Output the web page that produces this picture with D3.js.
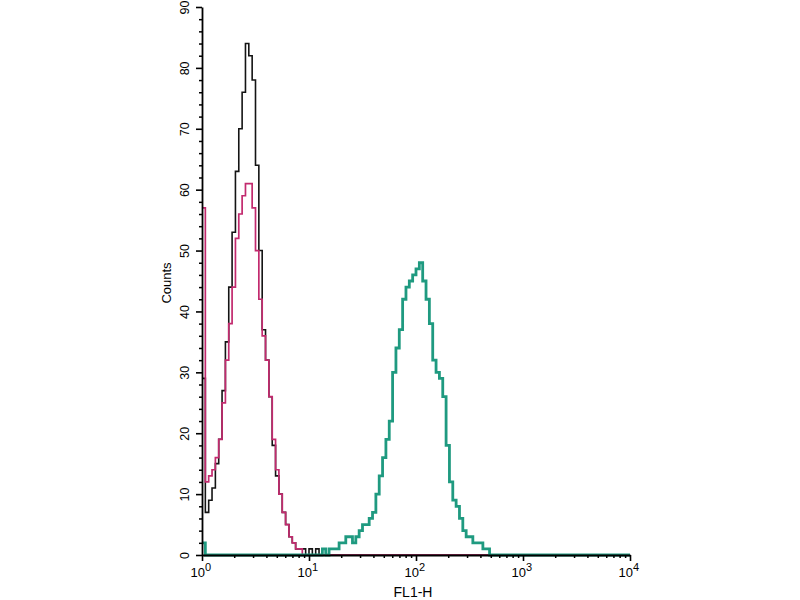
<!DOCTYPE html>
<html>
<head>
<meta charset="utf-8">
<script src="https://cdn.jsdelivr.net/npm/d3@7"></script>
<style>
  html, body { margin: 0; padding: 0; background: #fff; }
  svg { display: block; font-family: "Liberation Sans", Arial, sans-serif; }
</style>
</head>
<body>
<div id="chart"></div>
<script>
// #region Data (counts per 1/32-decade bin on FL1-H log axis)
const binsPerDecade = 32;
const totalBins = 128;

// black histogram, starts at bin 0
const blackCounts = [29, 7, 9, 11, 15, 19, 27, 35, 44, 53, 63, 70, 76, 84, 82, 78,
  64, 50, 37, 32, 26, 18, 13, 10, 7, 5, 3, 2, 1, 1, 1, 0, 1, 0, 1, 0];

// magenta histogram, starts at bin 0
const magentaCounts = [57, 12, 13, 14, 16, 19, 25, 32, 38, 44, 52, 56, 59, 61, 61, 57,
  50, 42, 36, 32, 26, 19, 14, 10, 7, 5, 3, 2, 1, 1, 0];

// teal histogram: a small bump at the first bin, then the stained peak from bin 36
const tealLowCounts = [2];
const tealPeakStart = 36;
const tealPeakCounts = [1, 0, 1, 1, 1, 2, 2, 3, 3, 2, 3, 4, 5, 5, 6, 7,
  10, 13, 16, 19, 22, 30, 34, 37, 42, 44, 45, 46, 47, 48, 45, 42,
  38, 32, 30, 29, 26, 18, 12, 9, 8, 6, 4, 3, 3, 2, 2, 2, 1, 1, 0];

const yTicks = [0, 10, 20, 30, 40, 50, 60, 70, 80, 90];
const xDecades = [1, 10, 100, 1000, 10000];
const xExponents = ['0', '1', '2', '3', '4'];
// #endregion

// #region SVG setup
const width = 800;
const height = 600;
const svg = d3.select('#chart').append('svg')
  .attr('width', width)
  .attr('height', height);

const x = d3.scaleLog().domain([1, 10000]).range([202, 630]);
const y = d3.scaleLinear().domain([0, 90]).range([555, 7]);
// #endregion

// #region Build step series
function toBins(parts) {
  const counts = new Array(totalBins).fill(0);
  parts.forEach(p => p.counts.forEach((c, i) => { counts[p.start + i] = c; }));
  const pts = counts.map((c, i) => [Math.pow(10, i / binsPerDecade), c]);
  pts.push([Math.pow(10, totalBins / binsPerDecade), 0]);
  return pts;
}

const stepLine = d3.line()
  .x(d => x(d[0]))
  .y(d => y(d[1]))
  .curve(d3.curveStepAfter);

const series = [
  { pts: toBins([{ start: 0, counts: blackCounts }]), color: '#141414', w: 1.6 },
  { pts: toBins([{ start: 0, counts: magentaCounts }]), color: '#c22a6e', w: 1.7 },
  { pts: toBins([{ start: 0, counts: tealLowCounts }, { start: tealPeakStart, counts: tealPeakCounts }]), color: '#1f9a80', w: 2.8 },
];

const plot = svg.append('g');
series.forEach(s => {
  plot.append('path')
    .attr('d', stepLine(s.pts))
    .attr('fill', 'none')
    .attr('stroke', s.color)
    .attr('stroke-width', s.w)
    .attr('stroke-linejoin', 'miter');
});
// #endregion

// #region Axes
const yMinor = d3.range(0, 91, 2).filter(v => v % 10 !== 0);
svg.append('g')
  .attr('transform', `translate(${x(1)},0)`)
  .call(d3.axisLeft(y).tickValues(yMinor).tickSize(3).tickFormat('').tickSizeOuter(0))
  .call(g => g.select('.domain').remove())
  .selectAll('line').attr('stroke-width', 1.5);

const yAxis = svg.append('g')
  .attr('transform', `translate(${x(1)},0)`)
  .call(d3.axisLeft(y).tickValues(yTicks).tickSize(6).tickSizeOuter(0));
yAxis.select('.domain').attr('stroke-width', 1.8);
yAxis.selectAll('line').attr('stroke-width', 1.6);
yAxis.selectAll('text')
  .attr('transform', 'rotate(-90)')
  .attr('x', 0)
  .attr('y', -13)
  .attr('dy', 0)
  .attr('text-anchor', 'middle')
  .style('font-size', '12.5px')
  .style('font-family', '"Liberation Sans", Arial, sans-serif');

const xMinor = [];
[1, 10, 100, 1000].forEach(d => d3.range(2, 10).forEach(m => xMinor.push(d * m)));
svg.append('g')
  .attr('transform', `translate(0,${y(0)})`)
  .call(d3.axisBottom(x).tickValues(xMinor).tickSize(3).tickFormat('').tickSizeOuter(0))
  .call(g => g.select('.domain').remove())
  .selectAll('line').attr('stroke-width', 1.5);

const xAxis = svg.append('g')
  .attr('transform', `translate(0,${y(0)})`)
  .call(d3.axisBottom(x).tickValues(xDecades).tickSize(6).tickSizeOuter(0).tickFormat(''));
xAxis.select('.domain').attr('stroke-width', 1.8);
xAxis.selectAll('line').attr('stroke-width', 1.6);
xAxis.selectAll('.tick text').remove();
xAxis.selectAll('.tick').each(function (d, i) {
  const t = d3.select(this).append('text')
    .attr('x', -12)
    .attr('y', 22)
    .attr('fill', '#000')
    .attr('text-anchor', 'start')
    .style('font-size', '13px')
    .style('font-family', '"Liberation Sans", Arial, sans-serif');
  t.append('tspan').text('10');
  t.append('tspan').attr('dy', -6).style('font-size', '11px').text(xExponents[i]);
});
// #endregion

// #region Axis titles
svg.append('text')
  .text('Counts')
  .attr('transform', 'translate(171,283) rotate(-90)')
  .attr('text-anchor', 'middle')
  .style('font-size', '13px');

svg.append('text')
  .text('FL1-H')
  .attr('x', 413)
  .attr('y', 597)
  .attr('text-anchor', 'middle')
  .style('font-size', '14px');
// #endregion
</script>
</body>
</html>
